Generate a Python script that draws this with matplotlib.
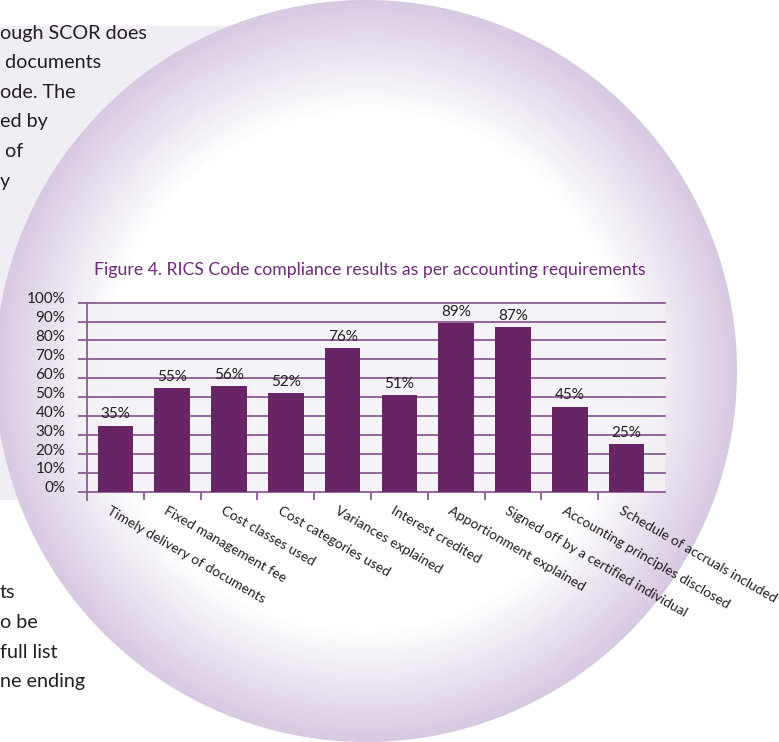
import numpy as np
import matplotlib
matplotlib.use("Agg")
import matplotlib.pyplot as plt
from matplotlib.patches import Rectangle
from matplotlib.transforms import ScaledTranslation

W, H = 779, 742

categories = [
    "Timely delivery of documents",
    "Fixed management fee",
    "Cost classes used",
    "Cost categories used",
    "Variances explained",
    "Interest credited",
    "Apportionment explained",
    "Signed off by a certified individual",
    "Accounting principles disclosed",
    "Schedule of accruals included",
]
compliance = [35, 55, 56, 52, 76, 51, 89, 87, 45, 25]
y_ticks = [0, 10, 20, 30, 40, 50, 60, 70, 80, 90, 100]

title = "Figure 4. RICS Code compliance results as per accounting requirements"

# body text running beside the figure (cut at the page edge)
text_top = ["ough SCOR does", " documents", "ode. The", "ed by", " of", "y"]
text_bottom = ["ts", "o be", "full list", "ne ending"]

BAR = "#672566"
GRID = "#8d5b97"
INK = "#231f20"
TITLE = "#6e2a78"
FONT = "Lato"

plt.rcParams["font.family"] = [FONT, "DejaVu Sans"]

fig = plt.figure(figsize=(W / 100, H / 100), dpi=100)
fig.patch.set_facecolor("white")

# page layer in pixel coordinates
bg = fig.add_axes([0, 0, 1, 1])
bg.set_xlim(0, W)
bg.set_ylim(H, 0)
bg.axis("off")

bg.add_patch(Rectangle((0, 26), 420, 474, facecolor="#f1edf5", edgecolor="none", zorder=0))

# radial-gradient disc, white in the middle, lilac towards the rim
cx, cy, r = 366, 371, 371
yy, xx = np.mgrid[0:H, 0:W] + 0.5
d = np.hypot(xx - cx, yy - cy)
t = np.clip((d / r - 0.70) / 0.30, 0, 1)
edge = np.array([215, 201, 225]) / 255
rgba = np.ones((H, W, 4))
rgba[..., :3] = (1 - t[..., None]) + t[..., None] * edge
rgba[..., 3] = np.clip(r - d + 0.5, 0, 1)
bg.imshow(rgba, extent=(0, W, H, 0), zorder=1, interpolation="bilinear")

for i, line in enumerate(text_top):
    bg.text(0, 33 + i * 29.6, line, fontsize=14.2, color=INK, va="center", ha="left", zorder=2)
for i, line in enumerate(text_bottom):
    bg.text(0, 593 + i * 29.6, line, fontsize=14.2, color=INK, va="center", ha="left", zorder=2)

bg.text(370, 270, title, fontsize=12.7, color=TITLE, ha="center", va="center", zorder=2)

# chart axes: 0% at y=491.7 px, 100% at y=302.7 px
x0, x1 = 87, 665
y0, y1 = 491.7, 302.7
step = 56.8
ax = fig.add_axes([x0 / W, 1 - y0 / H, (x1 - x0) / W, (y0 - y1) / H])
ax.set_facecolor((0.955, 0.945, 0.965, 0.85))
ax.set_zorder(3)

xpos = np.arange(len(categories))
ax.set_xlim(-0.5, (x1 - x0) / step - 0.5)
ax.set_ylim(0, 100)

for v in y_ticks:
    ax.axhline(v, color=GRID, lw=1.3, zorder=1, clip_on=False)

ax.bar(xpos, compliance, width=0.63, color=BAR, zorder=2)
for x, v in zip(xpos, compliance):
    ax.annotate(f"{v}%", (x, v), xytext=(0, 3), textcoords="offset points",
                ha="center", va="bottom", fontsize=11, color=INK)

for s in ax.spines.values():
    s.set_visible(False)
ax.plot([-0.5, -0.5], [-4.3, 100], color=GRID, lw=1.3, clip_on=False, zorder=3)

ax.set_yticks(y_ticks)
ax.set_yticklabels([f"{v}%" for v in y_ticks], fontsize=11, color=INK)
ax.tick_params(axis="y", direction="out", length=6.5, width=1.3, color=GRID, pad=9)
for lab in ax.get_yticklabels():
    lab.set_transform(lab.get_transform() + ScaledTranslation(0, 3.5 / 72, fig.dpi_scale_trans))

ax.set_xticks([])
ax.set_xticks(xpos[:-1] + 0.5, minor=True)
ax.tick_params(axis="x", which="minor", direction="out", length=5.5, width=1.3, color=GRID)

for x, name in zip(xpos, categories):
    ax.annotate(name, (x - 0.07, 0), xytext=(0, -9), textcoords="offset points",
                ha="left", va="top", rotation=-30, rotation_mode="anchor",
                fontsize=10, color=INK, annotation_clip=False)

fig.savefig("out.png", dpi=100)
